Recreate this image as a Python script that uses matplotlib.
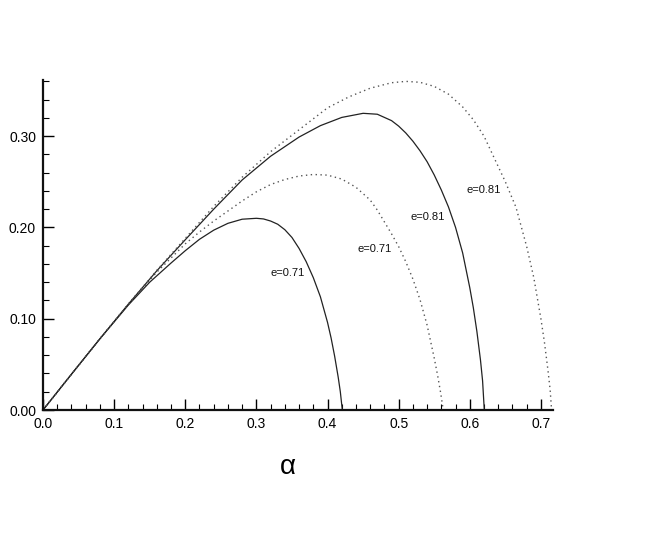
import matplotlib
matplotlib.use("Agg")
import matplotlib.pyplot as plt
from matplotlib.ticker import MultipleLocator, FormatStrFormatter

# Solid curve, e = 0.71
a_s71 = [0, 0.04, 0.08, 0.12, 0.15, 0.18, 0.20, 0.22, 0.24, 0.26, 0.28, 0.30,
         0.31, 0.32, 0.33, 0.34, 0.35, 0.36, 0.37, 0.38, 0.39, 0.40, 0.405,
         0.41, 0.415, 0.418, 0.4208]
v_s71 = [0, 0.0392, 0.0780, 0.1150, 0.1400, 0.1610, 0.1745, 0.1870, 0.1970,
         0.2045, 0.2090, 0.2100, 0.2093, 0.2070, 0.2035, 0.1975, 0.1890,
         0.1770, 0.1625, 0.1450, 0.1240, 0.0960, 0.0790, 0.0590, 0.0360,
         0.0200, 0]

# Dotted curve, e = 0.71
a_d71 = [0, 0.04, 0.08, 0.12, 0.16, 0.20, 0.22, 0.24, 0.26, 0.28, 0.30, 0.32,
         0.34, 0.36, 0.38, 0.40, 0.42, 0.44, 0.46, 0.47, 0.48, 0.49, 0.50,
         0.51, 0.52, 0.53, 0.54, 0.55, 0.555, 0.559, 0.5627]
v_d71 = [0, 0.0392, 0.0780, 0.1160, 0.1510, 0.1820, 0.1950, 0.2070, 0.2180,
         0.2290, 0.2390, 0.2470, 0.2525, 0.2563, 0.2580, 0.2573, 0.2530,
         0.2440, 0.2300, 0.2190, 0.2060, 0.1930, 0.1790, 0.1625, 0.1435,
         0.1210, 0.0930, 0.0570, 0.0370, 0.0190, 0]

# Solid curve, e = 0.81
a_s81 = [0, 0.04, 0.08, 0.12, 0.16, 0.20, 0.24, 0.28, 0.32, 0.36, 0.39, 0.42,
         0.45, 0.47, 0.49, 0.50, 0.51, 0.52, 0.53, 0.54, 0.55, 0.56, 0.57,
         0.58, 0.59, 0.60, 0.605, 0.61, 0.615, 0.618, 0.6204]
v_s81 = [0, 0.0392, 0.0780, 0.1160, 0.1525, 0.1865, 0.2200, 0.2520, 0.2780,
         0.2990, 0.3115, 0.3205, 0.3250, 0.3240, 0.3170, 0.3110, 0.3035,
         0.2945, 0.2840, 0.2720, 0.2575, 0.2410, 0.2225, 0.2000, 0.1720,
         0.1340, 0.1120, 0.0860, 0.0550, 0.0320, 0]

# Dotted curve, e = 0.81
a_d81 = [0, 0.04, 0.08, 0.12, 0.16, 0.20, 0.24, 0.28, 0.32, 0.36, 0.40, 0.43,
         0.46, 0.49, 0.51, 0.53, 0.55, 0.57, 0.59, 0.605, 0.62, 0.635, 0.65,
         0.665, 0.68, 0.69, 0.70, 0.705, 0.71, 0.713, 0.715]
v_d81 = [0, 0.0392, 0.0780, 0.1160, 0.1530, 0.1880, 0.2230, 0.2550, 0.2830,
         0.3070, 0.3310, 0.3430, 0.3525, 0.3585, 0.3600, 0.3590, 0.3545,
         0.3460, 0.3320, 0.3180, 0.3000, 0.2750, 0.2500, 0.2220, 0.1790,
         0.1450, 0.1000, 0.0740, 0.0430, 0.0220, 0]

# Curve labels
label_texts = ["e=0.71", "e=0.71", "e=0.81", "e=0.81"]
label_x = [0.3435, 0.466, 0.541, 0.619]
label_y = [0.150, 0.176, 0.211, 0.241]

plt.rcParams['font.family'] = ['Liberation Sans', 'DejaVu Sans']

fig = plt.figure(figsize=(6.64, 5.48), dpi=100)
ax = fig.add_axes([43/664, 138/548, 510/664, 330/548])

ax.plot(a_s71, v_s71, color='#222222', lw=0.9, ls='-')
ax.plot(a_d71, v_d71, color='#555555', lw=1.0, ls=(0, (1, 2.5)))
ax.plot(a_s81, v_s81, color='#222222', lw=0.9, ls='-')
ax.plot(a_d81, v_d81, color='#555555', lw=1.0, ls=(0, (1, 2.5)))

for t, x, y in zip(label_texts, label_x, label_y):
    ax.text(x, y, t, fontsize=8, ha='center', va='center', color='#111111')

ax.set_xlim(0, 0.717)
ax.set_ylim(0, 0.3615)

for s in ['top', 'right']:
    ax.spines[s].set_visible(False)
for s in ['left', 'bottom']:
    ax.spines[s].set_linewidth(1.6)
    ax.spines[s].set_color('#111111')

ax.xaxis.set_major_locator(MultipleLocator(0.1))
ax.xaxis.set_minor_locator(MultipleLocator(0.02))
ax.yaxis.set_major_locator(MultipleLocator(0.1))
ax.yaxis.set_minor_locator(MultipleLocator(0.02))
ax.xaxis.set_major_formatter(FormatStrFormatter('%.1f'))
ax.yaxis.set_major_formatter(FormatStrFormatter('%.2f'))

ax.tick_params(which='major', direction='in', length=8, width=1.0, labelsize=10, pad=5)
ax.tick_params(which='minor', direction='in', length=4.5, width=0.8)

fig.text(288/664, 1 - 467/548, "\u03b1", fontsize=20, ha='center', va='center')

fig.savefig("out.png", dpi=100)
